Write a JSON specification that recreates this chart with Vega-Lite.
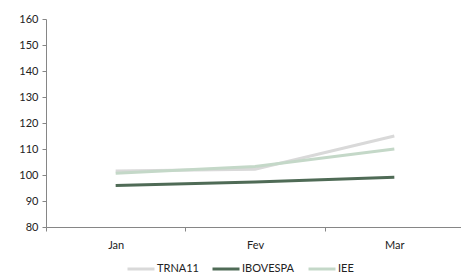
{
  "$schema": "https://vega.github.io/schema/vega-lite/v6.json",
  "autosize": "none",
  "width": 418,
  "height": 208,
  "padding": {"left": 46, "top": 19, "right": 0, "bottom": 49},
  "background": "white",
  "config": {"view": {"stroke": null}, "font": "Lato"},
  "data": {"values": [
    {"mes": "Jan", "serie": "TRNA11", "valor": 101.5},
    {"mes": "Fev", "serie": "TRNA11", "valor": 102.2},
    {"mes": "Mar", "serie": "TRNA11", "valor": 115},
    {"mes": "Jan", "serie": "IBOVESPA", "valor": 96},
    {"mes": "Fev", "serie": "IBOVESPA", "valor": 97.3},
    {"mes": "Mar", "serie": "IBOVESPA", "valor": 99.1},
    {"mes": "Jan", "serie": "IEE", "valor": 100.7},
    {"mes": "Fev", "serie": "IEE", "valor": 103.3},
    {"mes": "Mar", "serie": "IEE", "valor": 110}
  ]},
  "mark": {"type": "line", "strokeWidth": 3},
  "encoding": {
    "x": {
      "field": "mes", "type": "nominal", "sort": ["Jan", "Fev", "Mar"],
      "bandPosition": 0.5,
      "scale": {"type": "band", "paddingInner": 0, "paddingOuter": 0},
      "axis": {"title": null, "labelAngle": 0, "tickBand": "extent", "domainColor": "#868686", "tickColor": "#868686", "tickSize": 4, "labelPadding": 8, "labelFontSize": 11, "labelColor": "#222222", "grid": false}
    },
    "y": {
      "field": "valor", "type": "quantitative",
      "scale": {"domain": [80, 160], "nice": false, "zero": false},
      "axis": {"title": null, "values": [80, 90, 100, 110, 120, 130, 140, 150, 160], "grid": false, "domainColor": "#868686", "tickColor": "#868686", "tickSize": 4, "labelPadding": 4, "labelFontSize": 11, "labelColor": "#222222"}
    },
    "color": {
      "field": "serie", "type": "nominal",
      "scale": {"domain": ["TRNA11", "IBOVESPA", "IEE"], "range": ["#d9d9d9", "#4f6b56", "#c4d8c8"]},
      "legend": {
        "title": null, "orient": "none", "direction": "horizontal",
        "legendX": 80, "legendY": 235,
        "symbolType": "stroke", "symbolSize": 729, "symbolStrokeWidth": 3,
        "labelFontSize": 11, "labelColor": "#222222", "columnPadding": 7, "labelOffset": 1
      }
    }
  }
}
